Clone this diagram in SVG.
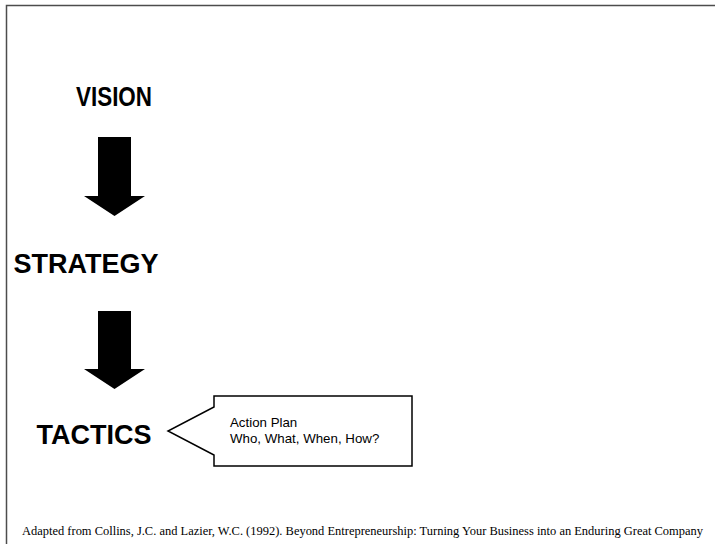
<svg xmlns="http://www.w3.org/2000/svg" width="715" height="544" viewBox="0 0 715 544">
  <style>
    .frame { stroke: #4d4d4d; stroke-width: 1.5; fill: none; }
    .level { font-family: "Liberation Sans", Arial, sans-serif; font-weight: bold; font-size: 27px; fill: #000; }
    .arrow { fill: #000; stroke: none; }
    .callout { fill: #fff; stroke: #000; stroke-width: 1.5; stroke-linejoin: miter; }
    .note { font-family: "Liberation Sans", Arial, sans-serif; font-size: 13.3px; fill: #000; }
    .source { font-family: "Liberation Serif", "Times New Roman", serif; font-size: 12px; fill: #000; }
  </style>

  <rect width="715" height="544" fill="#fff"/>

  <!-- slide frame: top and left edges only -->
  <path class="frame" d="M6.5,544 V5.5 H715"/>

  <!-- nodes -->
  <g id="vision">
    <text class="level" x="114" y="106" text-anchor="middle" font-size="26" textLength="76" lengthAdjust="spacingAndGlyphs">VISION</text>
  </g>
  <g id="strategy">
    <text class="level" x="86" y="273" text-anchor="middle">STRATEGY</text>
  </g>
  <g id="tactics">
    <text class="level" x="94" y="444" text-anchor="middle">TACTICS</text>
  </g>
  <g id="action-plan">
    <path class="callout" d="M214,396 H412 V466 H214 V455 L168,431 L214,407 Z"/>
    <text class="note" x="230" y="427">Action Plan</text>
    <text class="note" x="230" y="443">Who, What, When, How?</text>
  </g>

  <!-- connectors: block arrows between levels -->
  <g id="connectors">
    <polygon class="arrow" points="98,137 131,137 131,196 145,196 114.5,216 84,196 98,196"/>
    <polygon class="arrow" points="98,311 131,311 131,369 145,369 114.5,389 84,369 98,369"/>
  </g>

  <text class="source" x="22" y="535" textLength="681" lengthAdjust="spacingAndGlyphs">Adapted from Collins, J.C. and Lazier, W.C. (1992).  Beyond Entrepreneurship: Turning Your Business into an Enduring Great Company</text>
</svg>
